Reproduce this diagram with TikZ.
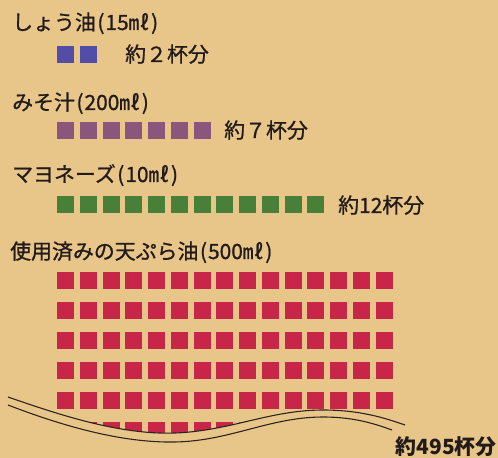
\documentclass[tikz,border=0pt]{standalone}
\usepackage{fontspec}
\setmainfont{Noto Sans CJK JP}
\newfontfamily\medfont{Noto Sans CJK JP}[FakeBold=0.9]
\newcommand{\lpar}{\hspace{1.5bp}(\hspace{1bp}}
\newcommand{\rpar}{\hspace{1.5bp})}
\definecolor{bgtan}{RGB}{232,198,138}
\definecolor{inkc}{RGB}{34,27,25}
\definecolor{sqblue}{RGB}{82,78,168}
\definecolor{sqpurple}{RGB}{138,86,124}
\definecolor{sqgreen}{RGB}{72,128,58}
\definecolor{sqred}{RGB}{200,38,72}
\definecolor{wavec}{RGB}{45,36,32}
\tikzset{
  heading/.style={anchor=base west, inner sep=0pt, text=inkc, font=\medfont\fontsize{21}{21}\selectfont},
  amount/.style={anchor=base west, inner sep=0pt, text=inkc, font=\medfont\fontsize{21}{21}\selectfont},
  bigamount/.style={anchor=base east, inner sep=0pt, text=inkc, font=\fontsize{21}{21}\selectfont\bfseries},
  cup/.style={fill=#1},
  wave/.style={draw=wavec, line width=1.1pt},
}
\begin{document}
\begin{tikzpicture}[x=1bp,y=-1bp]
\fill[bgtan] (0,0) rectangle (498,458);
\useasboundingbox (0,0) rectangle (498,458);
% headings
\node[heading] (t1) at (12,30) {しょう油\lpar 15㎖\rpar};
\node[heading] (t2) at (12,110) {みそ汁\lpar 200㎖\rpar};
\node[heading] (t3) at (12,182) {マヨネーズ\lpar 10㎖\rpar};
\node[heading] (t4) at (10,259) {使用済みの天ぷら油\lpar 500㎖\rpar};
% squares
\foreach \i in {0,1} \fill[cup=sqblue] ({57+22.75*\i},46) rectangle ++(17,17);
\foreach \i in {0,...,6} \fill[cup=sqpurple] ({57+22.75*\i},122) rectangle ++(17,17);
\foreach \i in {0,...,11} \fill[cup=sqgreen] ({57+22.75*\i},196) rectangle ++(17,17);
\foreach \j in {0,...,5}
  \foreach \i in {0,...,14}
    \fill[cup=sqred] ({57+22.75*\i},{272+30*\j}) rectangle ++(17,17);
% amounts
\node[amount] (a1) at (125,62) {約２杯分};
\node[amount] (a2) at (224,138) {約７杯分};
\node[amount] (a3) at (338,213) {約12杯分};
% torn edge
\fill[bgtan] (8,397) .. controls (60,415) and (120,435) .. (175,433)
  .. controls (230,431) and (270,410) .. (323,410)
  .. controls (360,410) and (385,418) .. (405,425)
  -- (405,458) -- (0,458) -- (0,397) -- cycle;
\draw[wave] (8,397) .. controls (60,415) and (120,435) .. (175,433)
  .. controls (230,431) and (270,410) .. (323,410)
  .. controls (360,410) and (385,418) .. (405,425);
\draw[wave] (8,405) .. controls (60,425) and (120,443) .. (175,442)
  .. controls (230,441) and (270,417) .. (323,417)
  .. controls (355,417) and (375,424) .. (392,430);
\node[bigamount] (a4) at (497,454) {約495杯分};
\end{tikzpicture}
\end{document}
